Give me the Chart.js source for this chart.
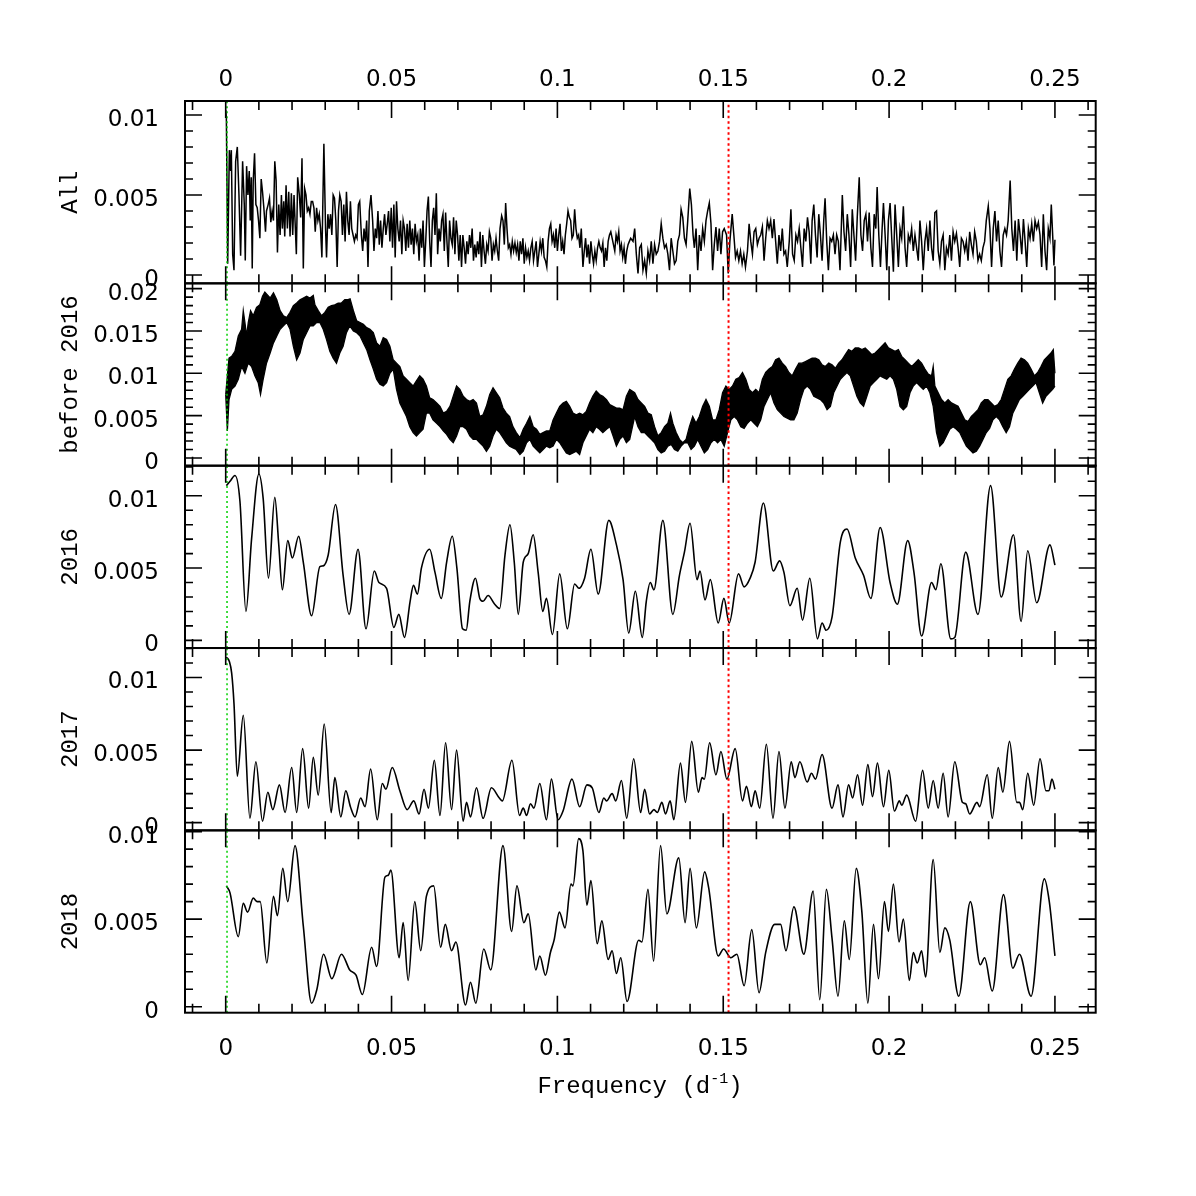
<!DOCTYPE html>
<html lang="en">
<head>
  <meta charset="UTF-8" />
  <title>Periodograms by season</title>
  <script src="https://cdn.jsdelivr.net/npm/chart.js"></script>
  <style>
    body {
      margin: 0;
      background: #fff;
    }
    #wrap {
      position: relative;
      width: 1196px;
      height: 1196px;
    }
    #wrap canvas {
      position: absolute;
      left: 0;
      top: 0;
    }
  </style>
</head>
<body>
  <div id="wrap">
    <canvas id="p0" width="1196" height="1196"></canvas>
    <canvas id="p1" width="1196" height="1196"></canvas>
    <canvas id="p2" width="1196" height="1196"></canvas>
    <canvas id="p3" width="1196" height="1196"></canvas>
    <canvas id="p4" width="1196" height="1196"></canvas>
  </div>

  <script>
    // frequencies in 1e-4 d^-1, powers in 1e-4
    const xTicks = [0, 0.05, 0.1, 0.15, 0.2, 0.25];
    const greenMarker = 0.0004;
    const redMarker = 0.1516;
    const panelNames = ['All', 'before 2016', '2016', '2017', '2018'];
    const yTicksSmall = [0, 0.005, 0.01];
    const yTicksBig = [0, 0.005, 0.01, 0.015, 0.02];

    const allPower = [
      [0,103],[2,98],[6,7],[11,78],[15,65],[17,78],[21,13],[25,3],[30,71],[35,80],[40,50],[45,12],[51,71],[56,44],[59,9],
      [63,68],[67,50],[71,65],[74,34],[77,61],[80,4],[83,59],[87,76],[91,44],[95,42],[99,34],[103,23],[107,60],[111,52],
      [115,42],[120,27],[123,40],[128,44],[132,48],[136,33],[140,40],[144,34],[148,71],[152,59],[156,14],[160,44],[164,25],
      [168,50],[171,29],[175,46],[178,24],[182,56],[186,29],[190,52],[194,24],[198,51],[202,25],[206,50],[210,29],[213,13],
      [217,61],[222,50],[226,36],[230,73],[234,4],[238,54],[242,50],[246,40],[250,42],[254,38],[258,46],[262,46],[266,42],
      [270,27],[274,42],[278,34],[282,38],[286,29],[290,11],[296,82],[301,29],[304,11],[308,38],[312,29],[316,38],[320,25],
      [324,50],[328,48],[332,34],[336,5],[340,40],[344,50],[348,46],[352,25],[356,44],[360,21],[364,52],[368,34],[372,25],
      [376,46],[380,29],[384,25],[388,21],[392,25],[396,23],[400,44],[404,46],[409,25],[413,15],[417,29],[421,21],[425,34],
      [429,5],[433,40],[438,50],[443,34],[447,15],[451,29],[455,23],[459,40],[463,19],[467,34],[471,17],[475,29],[479,38],
      [483,25],[487,32],[491,40],[495,21],[499,42],[503,17],[507,44],[511,11],[515,46],[519,29],[523,21],[527,34],[531,13],
      [535,34],[539,29],[543,15],[547,32],[551,17],[555,34],[559,19],[563,29],[567,13],[571,32],[575,21],[579,25],[583,9],
      [587,29],[591,17],[595,34],[599,5],[603,21],[607,40],[611,49],[615,21],[619,5],[623,34],[627,42],[631,25],[635,51],
      [639,13],[643,29],[647,21],[651,34],[655,38],[659,15],[663,39],[667,21],[671,5],[675,34],[679,23],[683,19],[687,36],
      [691,13],[695,34],[699,25],[703,9],[707,25],[711,5],[715,25],[719,17],[723,7],[727,21],[731,13],[735,25],[739,17],
      [743,29],[747,9],[751,19],[755,11],[759,21],[763,13],[767,27],[771,5],[775,25],[779,15],[783,7],[787,19],[791,15],
      [795,27],[799,23],[803,9],[807,19],[811,15],[815,23],[819,15],[823,9],[827,29],[832,37],[836,34],[840,19],[844,45],
      [848,29],[852,17],[856,19],[860,13],[864,21],[868,15],[872,20],[876,14],[880,19],[884,9],[888,21],[892,13],[896,23],
      [900,7],[904,17],[908,11],[912,15],[916,9],[920,17],[924,21],[928,9],[932,15],[936,21],[940,5],[944,13],[948,21],
      [952,15],[956,23],[960,11],[964,9],[968,5],[972,21],[976,29],[980,32],[984,21],[988,25],[992,17],[996,29],[1000,15],
      [1004,25],[1008,32],[1012,15],[1016,21],[1020,13],[1024,25],[1028,32],[1032,40],[1036,36],[1040,34],[1044,23],
      [1048,25],[1052,41],[1056,29],[1060,23],[1064,25],[1068,17],[1072,29],[1077,5],[1081,15],[1085,23],[1089,11],
      [1093,19],[1097,7],[1101,21],[1105,13],[1109,7],[1113,15],[1117,9],[1121,17],[1125,21],[1129,17],[1133,15],[1137,20],
      [1141,5],[1145,17],[1149,9],[1153,21],[1157,25],[1161,27],[1165,23],[1169,19],[1173,15],[1177,25],[1181,21],[1185,27],
      [1189,15],[1193,19],[1197,11],[1201,17],[1205,7],[1209,15],[1213,19],[1217,21],[1221,23],[1228,21],[1233,29],
      [1238,13],[1243,1],[1248,17],[1253,19],[1258,3],[1263,9],[1268,1],[1273,15],[1278,9],[1283,21],[1288,7],[1293,19],
      [1298,13],[1303,15],[1308,21],[1313,32],[1318,23],[1323,17],[1328,19],[1333,13],[1338,3],[1343,23],[1348,15],[1353,7],
      [1358,9],[1363,21],[1368,25],[1373,41],[1378,36],[1383,23],[1388,19],[1393,34],[1399,54],[1404,44],[1409,25],[1413,17],
      [1418,29],[1423,3],[1428,25],[1433,15],[1438,29],[1443,21],[1448,34],[1453,40],[1458,45],[1463,32],[1468,3],[1473,19],
      [1478,30],[1483,15],[1488,29],[1493,13],[1498,27],[1503,29],[1510,25],[1515,1],[1520,21],[1527,38],[1532,25],[1537,11],
      [1542,15],[1547,9],[1552,15],[1557,7],[1562,13],[1567,5],[1573,15],[1578,32],[1583,21],[1588,13],[1593,27],[1598,29],
      [1603,19],[1608,23],[1613,25],[1618,30],[1623,9],[1628,23],[1633,34],[1638,29],[1643,34],[1648,23],[1653,35],[1658,21],
      [1663,7],[1668,25],[1673,15],[1678,29],[1683,13],[1688,15],[1693,5],[1699,21],[1704,41],[1709,13],[1714,9],[1719,25],
      [1724,21],[1729,29],[1734,17],[1739,5],[1744,29],[1749,21],[1754,36],[1759,27],[1764,7],[1768,34],[1773,44],[1778,25],
      [1783,11],[1788,38],[1793,25],[1798,9],[1803,34],[1807,48],[1812,21],[1817,3],[1822,23],[1827,21],[1832,25],[1837,13],
      [1842,25],[1847,21],[1852,3],[1859,50],[1864,27],[1869,15],[1874,38],[1879,25],[1884,5],[1889,41],[1894,25],[1899,9],
      [1904,36],[1910,61],[1915,25],[1920,15],[1925,34],[1930,38],[1935,21],[1940,39],[1945,17],[1950,5],[1955,38],[1960,29],
      [1964,55],[1969,25],[1974,5],[1979,29],[1983,45],[1988,25],[1993,3],[1998,34],[2003,45],[2008,23],[2013,2],[2018,44],
      [2023,25],[2028,5],[2033,29],[2038,23],[2043,43],[2048,17],[2053,5],[2058,25],[2063,21],[2068,29],[2073,15],[2078,25],
      [2083,17],[2088,9],[2093,34],[2098,21],[2103,3],[2108,21],[2113,29],[2118,15],[2123,34],[2128,17],[2133,9],[2138,39],
      [2143,40],[2148,15],[2153,7],[2158,21],[2163,25],[2168,3],[2173,17],[2178,13],[2183,25],[2188,9],[2193,27],[2198,21],
      [2203,26],[2208,17],[2213,5],[2218,23],[2223,21],[2228,15],[2233,21],[2238,9],[2243,27],[2248,19],[2253,13],[2258,27],
      [2263,21],[2268,9],[2273,13],[2278,9],[2283,17],[2288,21],[2293,34],[2299,43],[2304,29],[2309,5],[2314,29],[2319,40],
      [2324,21],[2329,34],[2334,15],[2339,5],[2344,25],[2349,29],[2354,25],[2359,34],[2365,59],[2370,29],[2375,15],[2380,34],
      [2385,9],[2390,35],[2395,25],[2400,13],[2405,35],[2410,21],[2415,5],[2420,29],[2425,23],[2430,32],[2435,21],[2440,34],
      [2445,29],[2450,33],[2455,25],[2460,5],[2465,38],[2470,15],[2475,3],[2480,29],[2485,23],[2489,44],[2494,21],[2497,6],
      [2500,22]
    ];

    // before 2016: the fast ripple fills a band, kept as its upper and lower edges
    const before2016Upper = [
      [0,75],[5,97],[10,118],[18,120],[28,126],[38,144],[48,152],[53,174],[58,160],[63,144],[68,160],[75,174],[83,168],
      [93,178],[103,181],[111,191],[118,196],[125,193],[134,189],[144,195],[154,187],[164,174],[174,168],[184,166],[194,172],
      [204,180],[214,183],[224,187],[234,189],[244,191],[254,189],[264,192],[269,181],[279,174],[289,168],[299,172],[309,178],
      [319,180],[329,181],[339,183],[349,183],[359,187],[369,187],[375,188],[385,174],[395,162],[405,160],[415,158],[425,154],
      [435,152],[445,148],[455,136],[465,132],[475,142],[485,140],[495,132],[505,116],[515,112],[525,108],[535,97],[545,93],
      [555,89],[565,85],[575,91],[585,97],[595,93],[605,85],[615,71],[625,69],[636,65],[646,61],[656,53],[666,55],[676,61],
      [686,73],[696,85],[706,81],[716,73],[726,69],[736,67],[746,69],[756,65],[766,49],[776,51],[786,61],[796,75],[806,83],
      [816,77],[826,71],[836,59],[846,53],[856,49],[866,37],[876,30],[887,24],[897,34],[907,41],[917,49],[927,37],[937,34],
      [947,28],[957,30],[967,32],[977,32],[987,45],[997,53],[1007,61],[1017,65],[1027,67],[1037,61],[1047,53],[1057,51],
      [1067,53],[1077,51],[1087,55],[1097,65],[1107,73],[1117,79],[1127,75],[1137,73],[1148,69],[1158,63],[1168,61],[1178,59],
      [1188,59],[1198,57],[1208,73],[1218,81],[1233,77],[1243,69],[1253,65],[1263,61],[1273,53],[1283,51],[1293,37],[1303,26],
      [1313,30],[1323,37],[1333,41],[1341,53],[1348,41],[1358,30],[1368,22],[1378,18],[1388,22],[1398,37],[1408,49],[1418,41],
      [1428,49],[1438,61],[1448,69],[1458,61],[1468,45],[1478,45],[1488,57],[1498,77],[1508,85],[1518,81],[1528,85],[1538,93],
      [1548,95],[1558,101],[1568,93],[1578,81],[1588,77],[1598,81],[1608,77],[1618,93],[1628,101],[1638,105],[1648,108],
      [1658,116],[1668,118],[1678,112],[1688,108],[1698,101],[1708,97],[1718,105],[1728,112],[1738,112],[1748,114],[1758,116],
      [1768,118],[1778,118],[1788,116],[1798,110],[1808,108],[1818,112],[1828,110],[1838,106],[1848,112],[1858,116],[1868,122],
      [1878,128],[1888,126],[1898,130],[1908,130],[1918,128],[1928,130],[1938,126],[1948,122],[1958,124],[1968,128],[1978,132],
      [1988,136],[1998,130],[2008,128],[2018,126],[2028,128],[2038,120],[2048,116],[2058,112],[2068,108],[2078,112],[2088,116],
      [2098,112],[2108,105],[2118,99],[2128,97],[2133,108],[2138,85],[2148,77],[2158,69],[2168,65],[2178,69],[2188,65],
      [2198,63],[2208,61],[2218,53],[2228,45],[2238,43],[2248,49],[2258,53],[2268,57],[2278,65],[2288,69],[2298,69],[2308,65],
      [2318,61],[2328,63],[2338,69],[2348,81],[2358,93],[2368,97],[2378,105],[2388,112],[2398,118],[2408,116],[2418,112],
      [2428,105],[2438,97],[2448,101],[2458,108],[2468,116],[2478,120],[2488,124],[2495,128],[2500,100]
    ];
    const before2016Lower = [
      [0,75],[5,32],[10,69],[18,81],[28,85],[38,93],[48,108],[58,100],[68,112],[78,108],[88,97],[98,89],[105,75],[113,93],
      [123,112],[134,124],[144,136],[154,144],[164,152],[174,156],[184,160],[194,152],[204,132],[214,116],[224,124],[234,140],
      [244,148],[254,156],[264,156],[274,160],[284,160],[294,152],[304,140],[314,126],[324,118],[334,112],[344,124],[354,132],
      [364,148],[374,156],[385,150],[395,148],[405,144],[415,136],[425,128],[435,116],[445,105],[455,93],[465,87],[475,85],
      [485,89],[495,100],[505,105],[515,81],[525,65],[535,57],[545,49],[555,37],[565,30],[575,26],[585,30],[595,34],[605,53],
      [615,53],[625,45],[636,41],[646,37],[656,32],[666,28],[676,22],[686,18],[696,26],[706,37],[716,37],[726,34],[736,26],
      [746,22],[756,22],[766,18],[776,14],[786,8],[796,14],[806,26],[816,34],[826,30],[836,24],[846,18],[856,14],[866,12],
      [876,10],[887,4],[897,8],[907,18],[917,22],[927,14],[937,10],[947,6],[957,10],[967,14],[977,12],[987,14],[997,22],
      [1007,18],[1017,12],[1027,6],[1037,4],[1047,6],[1057,8],[1067,4],[1077,18],[1087,26],[1097,34],[1107,30],[1117,37],
      [1127,34],[1137,30],[1148,34],[1158,37],[1168,26],[1178,14],[1188,22],[1198,26],[1208,18],[1218,22],[1233,49],[1243,37],
      [1253,30],[1263,30],[1273,26],[1283,22],[1293,18],[1303,10],[1313,6],[1323,8],[1333,14],[1343,16],[1353,10],[1363,8],
      [1373,14],[1383,18],[1393,18],[1403,10],[1413,14],[1423,22],[1433,14],[1443,6],[1453,10],[1463,18],[1473,22],[1483,18],
      [1493,22],[1503,14],[1513,30],[1523,45],[1533,49],[1543,45],[1553,37],[1563,35],[1573,41],[1583,45],[1593,41],[1603,37],
      [1613,45],[1623,61],[1633,69],[1643,77],[1653,65],[1663,57],[1673,53],[1683,49],[1693,47],[1703,45],[1713,45],[1723,53],
      [1733,69],[1743,81],[1753,85],[1763,81],[1773,73],[1783,71],[1793,69],[1803,65],[1813,57],[1823,61],[1833,77],[1843,85],
      [1853,93],[1863,97],[1873,101],[1883,97],[1893,85],[1903,73],[1913,65],[1923,61],[1933,73],[1943,85],[1953,89],[1963,93],
      [1973,97],[1983,95],[1993,93],[2003,97],[2013,93],[2023,81],[2033,61],[2043,57],[2053,61],[2063,77],[2073,85],[2083,89],
      [2093,85],[2103,81],[2113,85],[2123,77],[2133,61],[2143,30],[2153,14],[2163,18],[2173,26],[2183,34],[2193,37],[2203,34],
      [2213,30],[2223,22],[2233,14],[2243,10],[2253,6],[2263,8],[2273,14],[2283,22],[2293,30],[2303,35],[2313,45],[2323,49],
      [2333,45],[2343,37],[2353,30],[2363,37],[2373,53],[2383,61],[2393,69],[2403,73],[2413,77],[2423,81],[2433,85],[2443,89],
      [2453,77],[2463,65],[2473,73],[2483,77],[2493,81],[2500,85]
    ];

    const power2016 = [
      [2,107],[13,110],[28,114],[43,96],[61,20],[78,70],[100,115],[113,98],[129,43],[148,99],[160,66],[171,35],[187,69],
      [201,57],[220,72],[234,54],[259,17],[284,51],[294,51.5],[309,59],[331,94],[354,45],[372,18],[399,63],[423,8],[448,48],
      [462,40],[485,36],[507,9],[522,18],[539,2],[556,27],[566,38],[578,32],[590,50],[615,63],[631,47],[650,29],[666,54],
      [683,72],[697,50],[714,8],[725,7],[736,27],[753,43],[766,29],[776,27],[791,31],[811,25],[826,22],[842,59],[857,80],
      [870,54],[882,18],[897,54],[912,60],[927,73],[942,47],[956,20],[967,29],[985,4],[1007,46],[1030,8],[1052,39],[1065,36],
      [1082,43],[1101,63],[1123,32],[1155,83],[1178,66],[1198,42],[1215,5],[1235,34],[1256,2],[1268,27],[1280,40],[1291,35],
      [1318,83],[1348,18],[1368,45],[1383,61],[1400,81],[1421,42],[1430,48],[1445,28],[1461,42],[1485,12],[1502,29],[1518,12],
      [1546,46],[1563,37],[1581,43],[1596,54],[1621,95],[1651,48],[1670,55],[1683,47],[1701,24],[1723,36],[1739,14],[1761,43],
      [1784,1],[1798,12],[1810,7],[1828,16],[1853,68],[1873,77],[1898,57],[1923,45],[1945,29],[1973,78],[2003,40],[2025,25],
      [2056,69],[2075,47],[2098,3],[2128,40],[2141,35],[2156,53],[2186,1],[2198,2],[2231,61],[2268,18],[2306,107],[2338,30],
      [2375,73],[2398,13],[2418,62],[2445,26],[2485,66],[2500,52]
    ];

    const power2017 = [
      [2,114],[11,111],[18,103],[25,82],[35,32],[53,74],[73,3],[91,42],[111,1],[127,21],[142,9],[162,26],[179,7],[199,38],
      [214,7],[232,51],[250,10],[264,45],[279,19],[297,68],[318,7],[329,31],[347,4],[362,22],[376,11],[390,4],[407,17],
      [420,11],[437,37],[457,2],[472,27],[483,23],[502,38],[525,22],[547,9],[567,15],[583,6],[598,23],[611,10],[629,43],
      [646,5],[663,55],[681,9],[696,50],[716,1],[726,14],[738,4],[756,24],[776,3],[801,24],[825,17],[834,15],[863,43],[886,5],
      [897,10],[907,5],[919,13],[929,10],[947,27],[967,2],[982,30],[1002,2],[1017,8],[1044,30],[1067,11],[1089,26],[1105,24],
      [1125,7],[1140,17],[1148,15],[1165,20],[1176,15],[1193,29],[1209,3],[1230,44],[1251,7],[1263,23],[1278,6],[1291,9],
      [1301,7],[1315,14],[1326,6],[1340,15],[1351,2],[1371,41],[1386,14],[1405,56],[1425,21],[1436,31],[1443,30],[1459,55],
      [1478,33],[1493,49],[1511,30],[1536,51],[1558,15],[1570,25],[1585,11],[1596,22],[1610,10],[1630,54],[1650,3],[1668,49],
      [1686,10],[1705,42],[1716,31],[1731,42],[1753,28],[1766,34],[1778,30],[1798,47],[1828,10],[1846,26],[1861,4],[1878,26],
      [1890,17],[1905,33],[1920,12],[1936,40],[1950,18],[1965,41],[1983,11],[1999,36],[2016,8],[2031,15],[2038,12],[2053,19],
      [2080,1],[2101,36],[2118,10],[2133,29],[2148,10],[2163,34],[2178,4],[2198,42],[2221,14],[2231,13],[2243,6],[2265,14],
      [2273,11],[2296,33],[2311,3],[2329,38],[2343,21],[2363,56],[2385,14],[2393,14],[2403,9],[2418,34],[2436,12],[2455,44],
      [2473,22],[2482,22],[2491,30],[2500,23]
    ];

    const power2018 = [
      [2,69],[13,65],[38,40],[53,59],[66,54],[83,62],[95,60],[104,60],[124,25],[144,63],[156,52],[172,79],[187,60],[209,92],
      [234,46],[259,2],[275,10],[295,30],[320,16],[349,30],[374,21],[393,18],[412,7],[440,34],[455,23],[480,74],[490,75],
      [498,78],[523,28],[535,48],[550,15],[570,60],[588,32],[605,63],[627,69],[648,34],[662,47],[681,32],[694,37],[723,1],
      [738,14],[754,2],[778,33],[799,21],[836,92],[862,43],[878,69],[899,48],[912,53],[935,21],[947,29],[964,18],[979,31],
      [990,38],[1006,54],[1023,45],[1041,70],[1047,69],[1064,96],[1077,89],[1089,58],[1101,72],[1120,36],[1134,49],[1153,27],
      [1165,32],[1178,19],[1191,28],[1210,3],[1245,38],[1255,37],[1273,67],[1290,26],[1311,92],[1330,53],[1366,85],[1385,48],
      [1400,79],[1419,45],[1444,77],[1456,68],[1485,29],[1501,33],[1523,28],[1541,30],[1563,12],[1586,44],[1608,8],[1628,31],
      [1655,47],[1673,47],[1689,32],[1713,57],[1743,30],[1771,66],[1791,4],[1811,67],[1828,39],[1846,6],[1865,49],[1880,27],
      [1901,79],[1918,54],[1936,2],[1953,47],[1968,16],[1986,60],[1998,43],[2013,70],[2030,37],[2043,50],[2061,15],[2073,31],
      [2085,25],[2098,32],[2110,17],[2133,84],[2153,31],[2168,45],[2183,38],[2210,6],[2245,60],[2275,24],[2288,28],[2311,9],
      [2345,64],[2373,22],[2393,30],[2428,6],[2468,73],[2483,60],[2500,29]
    ];

    const toXY = arr => arr.map(([f, p]) => ({ x: f * 1e-4, y: p * 1e-4 }));
    const fmt = v => String(parseFloat(v.toFixed(4)));

    const X_MIN = -0.01227, X_MAX = 0.26229;
    const PLOT_LEFT = 185, PLOT_RIGHT = 1095.7;
    const TOP = 101, PANEL_H = 182.34;
    const tickFont = { family: 'DejaVu Sans', size: 23 };
    const nameFont = { family: 'Liberation Mono', size: 24 };

    const panels = [
      { yMin: -0.00052, yMax: 0.01087, yTicks: yTicksSmall, kind: 'line', series: [allPower] },
      { yMin: -0.00091, yMax: 0.02063, yTicks: yTicksBig, kind: 'band', series: [before2016Upper, before2016Lower] },
      { yMin: -0.00053, yMax: 0.01208, yTicks: yTicksSmall, kind: 'smooth', series: [power2016] },
      { yMin: -0.00053, yMax: 0.01203, yTicks: yTicksSmall, kind: 'smooth', series: [power2017] },
      { yMin: -0.00034, yMax: 0.01007, yTicks: yTicksSmall, kind: 'smooth', series: [power2018] }
    ];

    // frame with inward ticks on all four sides
    const framePlugin = {
      id: 'frame',
      afterDraw(chart) {
        const { ctx, chartArea: a, scales: { x, y } } = chart;
        ctx.save();
        ctx.strokeStyle = '#000';
        ctx.lineWidth = 2;
        ctx.strokeRect(a.left, a.top, a.right - a.left, a.bottom - a.top);
        ctx.lineWidth = 1.6;
        ctx.beginPath();
        for (let k = Math.ceil(X_MIN / 0.01); k <= Math.floor(X_MAX / 0.01); k++) {
          const px = x.getPixelForValue(k * 0.01);
          const len = k % 5 === 0 ? 17 : 9;
          ctx.moveTo(px, a.top); ctx.lineTo(px, a.top + len);
          ctx.moveTo(px, a.bottom); ctx.lineTo(px, a.bottom - len);
        }
        for (let k = Math.ceil(y.min / 0.001); k <= Math.floor(y.max / 0.001); k++) {
          const py = y.getPixelForValue(k * 0.001);
          const len = k % 5 === 0 ? 17 : 8;
          ctx.moveTo(a.left, py); ctx.lineTo(a.left + len, py);
          ctx.moveTo(a.right, py); ctx.lineTo(a.right - len, py);
        }
        ctx.stroke();
        ctx.restore();
      }
    };

    const xTitlePlugin = {
      id: 'xtitle',
      afterDraw(chart) {
        const ctx = chart.ctx;
        ctx.save();
        ctx.fillStyle = '#000';
        ctx.textBaseline = 'alphabetic';
        ctx.font = '24px "Liberation Mono"';
        const a = 'Frequency (d', c = ')';
        const wa = ctx.measureText(a).width, wc = ctx.measureText(c).width;
        ctx.font = '15px "Liberation Mono"';
        const b = '-1';
        const wb = ctx.measureText(b).width;
        let x0 = 640 - (wa + wb + wc) / 2;
        const base = 1093;
        ctx.font = '24px "Liberation Mono"';
        ctx.fillText(a, x0, base);
        ctx.font = '15px "Liberation Mono"';
        ctx.fillText(b, x0 + wa, base - 10);
        ctx.font = '24px "Liberation Mono"';
        ctx.fillText(c, x0 + wa + wb, base);
        ctx.restore();
      }
    };

    function buildDatasets(p) {
      const sets = [];
      if (p.kind === 'band') {
        sets.push({ data: toXY(p.series[0]), borderColor: '#000', borderWidth: 1.3, fill: '+1', backgroundColor: '#000', order: 1 });
        sets.push({ data: toXY(p.series[1]), borderColor: '#000', borderWidth: 1.3, fill: false, order: 1 });
      } else {
        sets.push({
          data: toXY(p.series[0]), borderColor: '#000', borderWidth: p.kind === 'line' ? 1.5 : 1.6, fill: false,
          cubicInterpolationMode: p.kind === 'smooth' ? 'monotone' : 'default', tension: 0, order: 1
        });
      }
      sets.push({ data: [{ x: greenMarker, y: p.yMin }, { x: greenMarker, y: p.yMax }], borderColor: '#00d000', borderWidth: 1.5, borderDash: [2, 3], fill: false, order: 0 });
      sets.push({ data: [{ x: redMarker, y: p.yMin }, { x: redMarker, y: p.yMax }], borderColor: '#ff0000', borderWidth: 2, borderDash: [2.5, 3], fill: false, order: 0 });
      return sets;
    }

    panels.forEach((p, i) => {
      const top = TOP + i * PANEL_H;
      const bottom = top + PANEL_H;
      const first = i === 0, last = i === panels.length - 1;
      new Chart(document.getElementById('p' + i), {
        type: 'line',
        data: { datasets: buildDatasets(p) },
        options: {
          responsive: false,
          animation: false,
          devicePixelRatio: 1,
          layout: { padding: { left: 0, right: 1196 - PLOT_RIGHT, top: first ? 0 : top, bottom: last ? 0 : 1196 - bottom } },
          elements: { point: { radius: 0 } },
          plugins: { legend: { display: false }, tooltip: { enabled: false } },
          scales: {
            x: {
              type: 'linear',
              position: first ? 'top' : 'bottom',
              display: first || last,
              min: X_MIN,
              max: X_MAX,
              afterFit: s => { s.height = first ? top : (last ? 1196 - bottom : 0); },
              afterBuildTicks: s => { s.ticks = xTicks.map(v => ({ value: v })); },
              grid: { display: false, drawTicks: false },
              border: { display: false },
              ticks: { font: tickFont, color: '#000', padding: first ? 7 : 23, autoSkip: false, maxRotation: 0, callback: fmt }
            },
            y: {
              type: 'linear',
              min: p.yMin,
              max: p.yMax,
              afterFit: s => { s.width = PLOT_LEFT; },
              afterBuildTicks: s => { s.ticks = p.yTicks.map(v => ({ value: v })); },
              grid: { display: false, drawTicks: false },
              border: { display: false },
              ticks: { font: tickFont, color: '#000', padding: 26, labelOffset: 5, autoSkip: false, callback: fmt },
              title: { display: true, text: panelNames[i], font: nameFont, color: '#000', padding: { top: 56, bottom: 0 } }
            }
          }
        },
        plugins: last ? [framePlugin, xTitlePlugin] : [framePlugin]
      });
    });
  </script>
</body>
</html>
